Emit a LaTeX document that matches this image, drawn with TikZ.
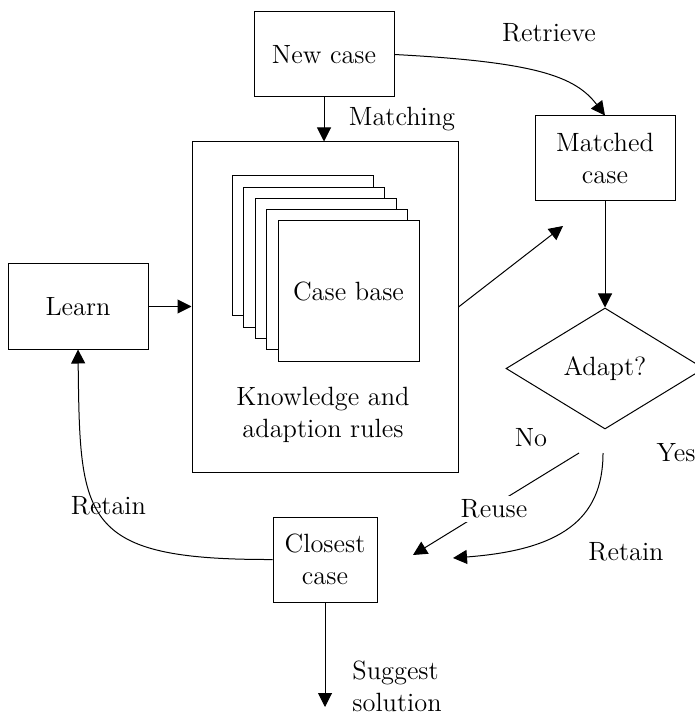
\documentclass[tikz,border=0pt]{standalone}
\usetikzlibrary{arrows.meta,shapes.geometric}

\begin{document}
\begin{tikzpicture}[x=0.5pt,y=-0.5pt,
  every node/.style={font=\fontsize{13.2}{15.9}\selectfont},
  box/.style={draw,line width=0.5pt,inner sep=0pt,align=center,fill=white},
  sheet/.style={draw,line width=0.5pt,fill=white,minimum width=70.5pt,minimum height=70pt,inner sep=0pt},
  arr/.style={line width=0.5pt,-{Triangle[length=7pt,width=7pt]}},
  lbl/.style={inner sep=1pt,align=center}]
\useasboundingbox (0,0) rectangle (694,715);

% boxes
\node[box,minimum width=70pt,minimum height=42.5pt] (newcase) at (324,54.5) {New case};
\node[box,minimum width=133pt,minimum height=165pt] (kb) at (325,307) {};
\foreach \k in {0,...,3}
  \node[sheet] (page\k) at ({302.5+11.5*\k},{246+11.25*\k}) {};
\node[sheet] (page4) at (348.5,291) {Case base};
\node[lbl] (rules) at (323,414.5) {Knowledge and\\adaption rules};
\node[box,minimum width=70pt,minimum height=42.5pt] (learn) at (78,306.5) {Learn};
\node[box,minimum width=70pt,minimum height=42.5pt] (matched) at (605,158.5) {Matched\\case};
\node[draw,diamond,line width=0.5pt,aspect=1.64,minimum width=99pt,minimum height=60.5pt,inner sep=0pt] (adapt) at (605,368.5) {Adapt?};
\node[box,minimum width=52pt,minimum height=42.5pt] (closest) at (325,559.5) {Closest\\case};

% free ends of connectors
\coordinate (rtip) at (563,226);
\coordinate (nostart) at (579,453);
\coordinate (reuseend) at (413,555);
\coordinate (yesstart) at (603,453);
\coordinate (yesend) at (453,558);
\coordinate (sugend) at (325,707);

% connectors
\draw[arr] (newcase.south) -- (newcase.south |- kb.north);
\draw[arr] (newcase.east) .. controls (535,62) and (575,76) .. (matched.north);
\draw[arr] (kb.east) -- (rtip);
\draw[arr] (matched.south) -- (adapt.north);
\draw[arr] (learn.east) -- (learn.east -| kb.west);
\draw[arr] (nostart) -- (reuseend);
\node[fill=white,inner sep=2pt] (reuse) at (494,509) {Reuse};
\draw[arr] (yesstart) .. controls (603,520) and (560,550) .. (yesend);
\draw[arr] (closest.west) .. controls (80,560) and (80,520) .. (learn.south);
\draw[arr] (closest.south) -- (sugend);

% labels
\node[lbl] (matching) at (402,119) {Matching};
\node[lbl] (retrieve) at (549,33) {Retrieve};
\node[lbl] (retainl) at (108.5,506) {Retain};
\node[lbl] (retainr) at (626,552) {Retain};
\node[lbl] (no) at (531,438) {No};
\node[lbl] (yes) at (676,453) {Yes};
\node[lbl,align=left,anchor=west] (suggest) at (350,686) {Suggest\\solution};
\end{tikzpicture}
\end{document}
